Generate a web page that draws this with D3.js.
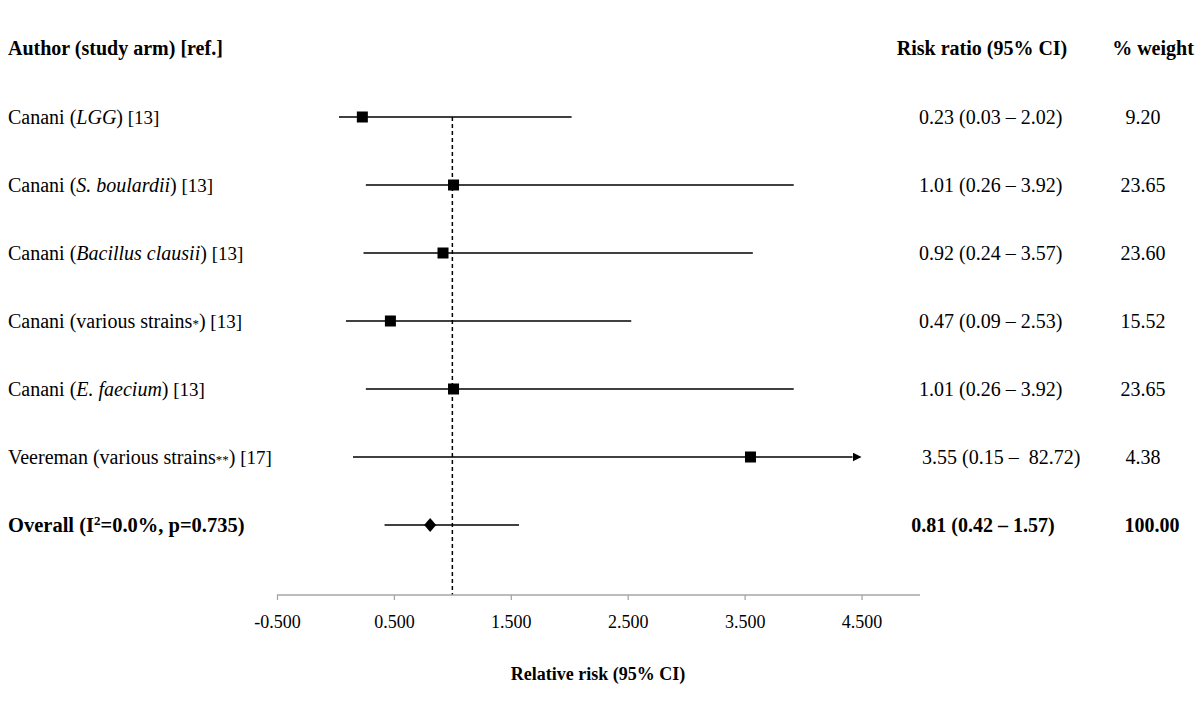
<!DOCTYPE html>
<html>
<head>
    <meta charset="utf-8">
    <title>Forest plot</title>
    <script src="https://d3js.org/d3.v7.min.js"></script>
    <style>
        body { margin: 0; background: #fff; }
        svg { font-family: "Liberation Serif", "Times New Roman", serif; }
        text { white-space: pre; fill: #000; }
    </style>
</head>
<body>
    <svg width="1200" height="703"></svg>

    <script>
    // study labels, split in pieces so the strain names can be italic
    const labels = [
        [["Canani (", ""], ["LGG", "i"], [")", ""], [" [13]", "s"]],
        [["Canani (", ""], ["S. boulardii", "i"], [")", ""], [" [13]", "s"]],
        [["Canani (", ""], ["Bacillus clausii", "i"], [")", ""], [" [13]", "s"]],
        [["Canani (various strains", ""], ["*", "a"], [")", ""], [" [13]", "s"]],
        [["Canani (", ""], ["E. faecium", "i"], [")", ""], [" [13]", "s"]],
        [["Veereman (various strains", ""], ["**", "a"], [")", ""], [" [17]", "s"]]
    ];
    const rr     = [0.23, 1.01, 0.92, 0.47, 1.01, 3.55];
    const lower  = [0.03, 0.26, 0.24, 0.09, 0.26, 0.15];
    const upper  = [2.02, 3.92, 3.57, 2.53, 3.92, 82.72];
    const weight = ["9.20", "23.65", "23.60", "15.52", "23.65", "4.38"];
    const rrText = ["0.23 (0.03 \u2013 2.02)", "1.01 (0.26 \u2013 3.92)", "0.92 (0.24 \u2013 3.57)",
                    "0.47 (0.09 \u2013 2.53)", "1.01 (0.26 \u2013 3.92)", "3.55 (0.15 \u2013  82.72)"];

    const overall = { rr: 0.81, lower: 0.42, upper: 1.57, text: "0.81 (0.42 \u2013 1.57)", weight: "100.00" };
    const ticks = [-0.5, 0.5, 1.5, 2.5, 3.5, 4.5];

    const svg = d3.select("svg");
    const fs = "20px";

    const x = d3.scaleLinear().domain([-0.5, 5.0]).range([277, 920]);
    const rows = d3.range(7);
    const y = d3.scalePoint().domain(rows).range([117, 525]);
    const axisY = 595;
    const clipMax = 4.5;

    // headers
    svg.append("text").attr("x", 8).attr("y", 48).attr("dy", "0.35em")
        .style("font-size", fs).style("font-weight", "bold")
        .text("Author (study arm) [ref.]");
    svg.append("text").attr("x", 982).attr("y", 48).attr("dy", "0.35em")
        .attr("text-anchor", "middle")
        .style("font-size", fs).style("font-weight", "bold")
        .text("Risk ratio (95% CI)");
    svg.append("text").attr("x", 1153).attr("y", 48).attr("dy", "0.35em")
        .attr("text-anchor", "middle")
        .style("font-size", fs).style("font-weight", "bold")
        .text("% weight");

    // study labels
    labels.forEach((parts, i) => {
        const t = svg.append("text").attr("x", 8).attr("y", y(i)).attr("dy", "0.35em")
            .style("font-size", fs);
        parts.forEach(p => {
            const s = t.append("tspan").text(p[0]);
            if (p[1] === "i") s.style("font-style", "italic");
            if (p[1] === "s") s.style("font-size", "19px");
            if (p[1] === "a") s.style("font-size", "13px");
        });
    });

    // overall label
    const ov = svg.append("text").attr("x", 8).attr("y", y(6)).attr("dy", "0.35em")
        .style("font-size", "20.5px").style("font-weight", "bold");
    ov.append("tspan").text("Overall (I");
    ov.append("tspan").text("2").style("font-size", "13px").attr("dy", "-7");
    ov.append("tspan").text("=0.0%, p=0.735)").attr("dy", "7");

    // reference line at 1
    svg.append("line")
        .attr("x1", x(1)).attr("x2", x(1))
        .attr("y1", y(0)).attr("y2", axisY)
        .attr("stroke", "#000").attr("stroke-width", 1.5)
        .attr("stroke-dasharray", "4,3");

    // axis
    const axis = d3.axisBottom(x).tickValues(ticks)
        .tickFormat(d => d3.format(".3f")(d).replace("\u2212", "-")).tickSize(5);
    const ag = svg.append("g").attr("transform", `translate(0,${axisY})`).call(axis);
    ag.select(".domain").attr("stroke", "#a6a6a6").attr("stroke-width", 1.3)
        .attr("d", `M${x(-0.5)},0H${x(5.0)}`);
    ag.selectAll(".tick line").attr("stroke", "#a6a6a6").attr("stroke-width", 1.3);
    ag.selectAll(".tick text")
        .attr("y", 20)
        .style("font-family", "'Liberation Serif', serif")
        .style("font-size", "18px").attr("fill", "#000");

    svg.append("text").attr("x", 598).attr("y", 674).attr("dy", "0.35em")
        .attr("text-anchor", "middle")
        .style("font-size", "18px").style("font-weight", "bold")
        .text("Relative risk (95% CI)");

    // arrow marker for clipped CIs
    svg.append("defs").append("marker")
        .attr("id", "arrow").attr("viewBox", "0 0 10 10")
        .attr("refX", 0).attr("refY", 5)
        .attr("markerWidth", 6).attr("markerHeight", 6)
        .attr("markerUnits", "strokeWidth")
        .attr("orient", "auto")
        .append("path").attr("d", "M0,0L10,5L0,10Z").attr("fill", "#000");

    // CI lines
    rr.forEach((v, i) => {
        const hi = Math.min(upper[i], clipMax);
        const l = svg.append("line")
            .attr("x1", x(lower[i])).attr("x2", upper[i] > clipMax ? x(hi) - 9 : x(hi))
            .attr("y1", y(i)).attr("y2", y(i))
            .attr("stroke", "#000").attr("stroke-width", 1.5);
        if (upper[i] > clipMax) l.attr("marker-end", "url(#arrow)");
    });

    // point estimates
    svg.selectAll("rect.pt")
        .data(rr)
        .enter().append("rect")
        .attr("class", "pt")
        .attr("x", d => x(d) - 5.5)
        .attr("y", (d, i) => y(i) - 5.5)
        .attr("width", 11).attr("height", 11)
        .attr("fill", "#000");

    // risk ratio and weight columns
    rrText.forEach((t, i) => {
        svg.append("text").attr("x", i === 5 ? 922 : 919).attr("y", y(i)).attr("dy", "0.35em")
            .style("font-size", fs).text(t);
        svg.append("text").attr("x", 1143).attr("y", y(i)).attr("dy", "0.35em")
            .attr("text-anchor", "middle").style("font-size", fs).text(weight[i]);
    });

    // overall row
    svg.append("line")
        .attr("x1", x(overall.lower)).attr("x2", x(overall.upper))
        .attr("y1", y(6)).attr("y2", y(6))
        .attr("stroke", "#000").attr("stroke-width", 1.5);
    const cx = x(overall.rr), cy = y(6);
    svg.append("path")
        .attr("d", `M${cx},${cy - 7}L${cx + 6},${cy}L${cx},${cy + 7}L${cx - 6},${cy}Z`)
        .attr("fill", "#000");
    svg.append("text").attr("x", 983).attr("y", y(6)).attr("dy", "0.35em")
        .attr("text-anchor", "middle")
        .style("font-size", fs).style("font-weight", "bold").text(overall.text);
    svg.append("text").attr("x", 1152).attr("y", y(6)).attr("dy", "0.35em")
        .attr("text-anchor", "middle")
        .style("font-size", fs).style("font-weight", "bold").text(overall.weight);
    </script>
</body>
</html>
